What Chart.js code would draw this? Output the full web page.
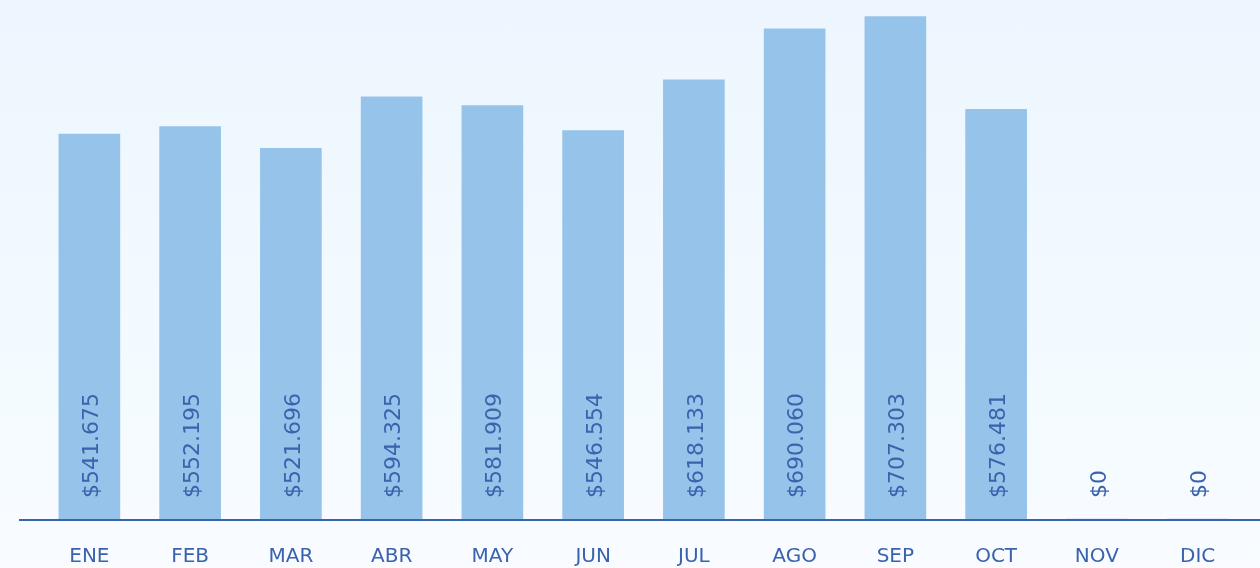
<!DOCTYPE html>
<html lang="es">
<head>
<meta charset="utf-8">
<script src="https://cdn.jsdelivr.net/npm/chart.js@4/dist/chart.umd.min.js"></script>
<style>
  html, body { margin: 0; padding: 0; }
  body {
    width: 1260px; height: 568px; overflow: hidden;
    background: linear-gradient(180deg, #edf6fe 0%, #f1f9ff 40%, #f4fbff 70%, #f9fbff 100%);
  }
  /* el lienzo es más alto que la ventana: las etiquetas del eje quedan cortadas abajo */
  #wrap { position: relative; width: 1260px; height: 595px; }
</style>
</head>
<body>
<div id="wrap"><canvas id="ventas"></canvas></div>
<script>
// Datos del gráfico (ventas mensuales)
const meses = ['ENE', 'FEB', 'MAR', 'ABR', 'MAY', 'JUN', 'JUL', 'AGO', 'SEP', 'OCT', 'NOV', 'DIC'];
const ventas = [541675, 552195, 521696, 594325, 581909, 546554, 618133, 690060, 707303, 576481, 0, 0];

const AZUL = '#3a63ad';
const BARRA = '#96c3ea';
const FUENTE = '"DejaVu Sans", "Noto Sans", sans-serif';

// Formato $541.675
function formatoPeso(v) {
    return '$' + v.toString().replace(/\B(?=(\d{3})+(?!\d))/g, '.');
}

// Línea del eje + etiquetas verticales dentro de las barras
const etiquetasPlugin = {
    id: 'etiquetas',
    afterDatasetsDraw(chart) {
        const { ctx, chartArea } = chart;
        ctx.save();
        ctx.strokeStyle = AZUL;
        ctx.lineWidth = 2;
        ctx.beginPath();
        ctx.moveTo(19, chartArea.bottom + 1);
        ctx.lineTo(chart.width, chartArea.bottom + 1);
        ctx.stroke();

        const meta = chart.getDatasetMeta(0);
        ctx.fillStyle = AZUL;
        ctx.font = '22px ' + FUENTE;
        ctx.textAlign = 'left';
        ctx.textBaseline = 'middle';
        meta.data.forEach((bar, i) => {
            ctx.save();
            ctx.translate(bar.x, chartArea.bottom - 21);
            ctx.rotate(-Math.PI / 2);
            ctx.fillText(formatoPeso(ventas[i]), 0, 3);
            ctx.restore();
        });
        ctx.restore();
    }
};

new Chart(document.getElementById('ventas'), {
    type: 'bar',
    data: {
        labels: meses,
        datasets: [{
            data: ventas,
            backgroundColor: BARRA,
            borderWidth: 0,
            barThickness: 61
        }]
    },
    options: {
        responsive: true,
        maintainAspectRatio: false,
        animation: false,
        layout: { padding: { left: 39, right: 12, top: 0, bottom: 0 } },
        plugins: { legend: { display: false }, tooltip: { enabled: false } },
        scales: {
            x: {
                grid: { display: false, drawTicks: false },
                border: { display: false },
                ticks: {
                    color: AZUL,
                    padding: 26,
                    font: { family: FUENTE, size: 20 }
                }
            },
            y: {
                display: false,
                min: 0,
                max: 730500
            }
        }
    },
    plugins: [etiquetasPlugin]
});
</script>
</body>
</html>
